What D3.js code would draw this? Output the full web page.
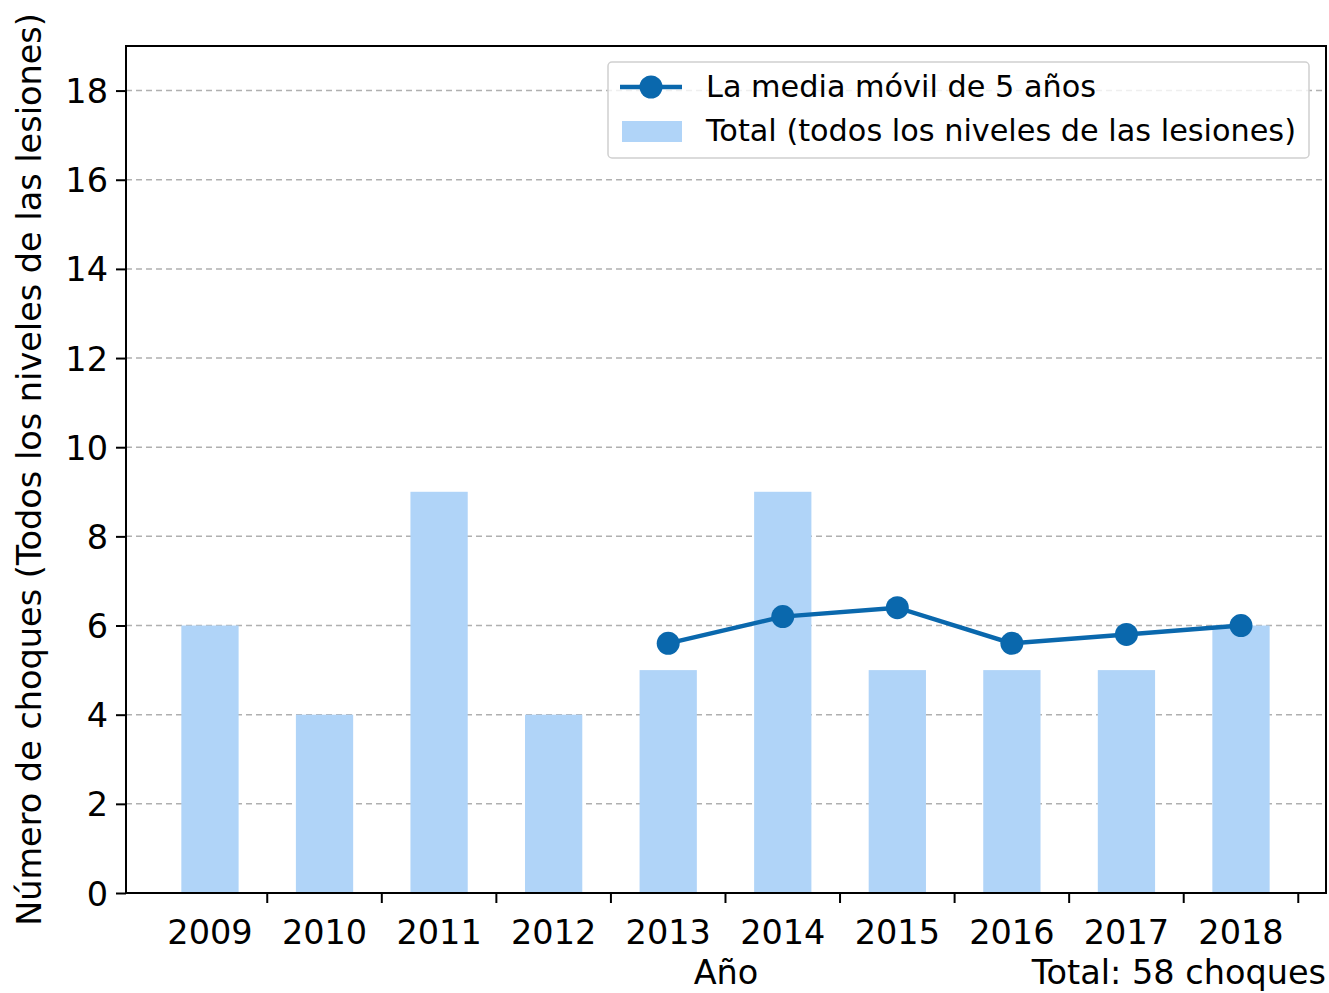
<!DOCTYPE html>
<html><head><meta charset="utf-8">
<script src="https://cdn.jsdelivr.net/npm/d3@7"></script>
<style>body{margin:0;background:#fff;} svg{display:block;font-family:"DejaVu Sans",sans-serif;}</style>
</head><body>
<svg id="c" width="1329" height="993"></svg>
<script>
const years = [2009,2010,2011,2012,2013,2014,2015,2016,2017,2018];
const totals = [6,4,9,4,5,9,5,5,5,6];
const maYears = [2013,2014,2015,2016,2017,2018];
const maValues = [5.6,6.2,6.4,5.6,5.8,6.0];
const yTicks = [0,2,4,6,8,10,12,14,16,18];
const legendLabels = ["La media móvil de 5 años","Total (todos los niveles de las lesiones)"];
const xTitle = "Año";
const yTitle = "Número de choques (Todos los niveles de las lesiones)";
const totalNote = "Total: 58 choques";

const L=126,R=1326,T=46,B=893;
const svg=d3.select("#c");
const x=d3.scaleLinear().domain([2009-0.733,2018+0.742]).range([L,R]);
const y=d3.scaleLinear().domain([0,19]).range([B,T]);
const step=x(2010)-x(2009);
const barColor="#b0d4f8", lineColor="#0a68ad";

// grid
svg.append("g").selectAll("line").data(yTicks.filter(d=>d>0)).join("line")
 .attr("x1",L).attr("x2",R).attr("y1",d=>y(d)).attr("y2",d=>y(d))
 .attr("stroke","#b0b0b0").attr("stroke-width",1.5).attr("stroke-dasharray","6,4");

// bars
svg.append("g").selectAll("rect").data(years.map((d,i)=>({yr:d,v:totals[i]}))).join("rect")
 .attr("x",d=>x(d.yr)-step*0.25).attr("width",step*0.5)
 .attr("y",d=>y(d.v)).attr("height",d=>y(0)-y(d.v)).attr("fill",barColor);

// line
const pts=maYears.map((d,i)=>[d,maValues[i]]);
svg.append("path").datum(pts).attr("fill","none").attr("stroke",lineColor).attr("stroke-width",4.5)
 .attr("d",d3.line().x(d=>x(d[0])).y(d=>y(d[1])));
svg.append("g").selectAll("circle").data(pts).join("circle")
 .attr("cx",d=>x(d[0])).attr("cy",d=>y(d[1])).attr("r",11.5).attr("fill",lineColor);

// frame
svg.append("rect").attr("x",L).attr("y",T).attr("width",R-L).attr("height",B-T)
 .attr("fill","none").attr("stroke","#000").attr("stroke-width",2);

// y axis
const ya=svg.append("g").attr("transform",`translate(${L},0)`)
 .call(d3.axisLeft(y).tickValues(yTicks).tickSize(10).tickPadding(8).tickFormat(d3.format("d")));
ya.select(".domain").remove();
ya.selectAll("line").attr("stroke","#000").attr("stroke-width",2);
ya.selectAll("text").attr("font-size",33.5).attr("font-family","DejaVu Sans").attr("fill","#000").attr("dy","0.36em");

// x axis: ticks between bars, labels at bar centers
const xa=svg.append("g").attr("transform",`translate(0,${B})`);
xa.selectAll("line").data(years).join("line")
 .attr("x1",d=>x(d+0.5)).attr("x2",d=>x(d+0.5)).attr("y1",0).attr("y2",10)
 .attr("stroke","#000").attr("stroke-width",2);
xa.selectAll("text").data(years).join("text")
 .attr("x",d=>x(d)).attr("y",51).attr("text-anchor","middle")
 .attr("font-size",33.5).attr("fill","#000").text(d=>d);

svg.append("text").attr("x",(L+R)/2).attr("y",984).attr("text-anchor","middle")
 .attr("font-size",33.5).text(xTitle);
svg.append("text").attr("x",R).attr("y",984).attr("text-anchor","end")
 .attr("font-size",33.5).text(totalNote);
svg.append("text").attr("transform",`translate(41,${(T+B)/2}) rotate(-90)`).attr("text-anchor","middle")
 .attr("font-size",33.5).text(yTitle);

// legend
const lg=svg.append("g");
lg.append("rect").attr("x",608).attr("y",62).attr("width",701).attr("height",96).attr("rx",4)
 .attr("fill","#fff").attr("fill-opacity",0.8).attr("stroke","#d0d0d0").attr("stroke-width",1.5);
lg.append("line").attr("x1",620).attr("x2",682).attr("y1",87).attr("y2",87).attr("stroke",lineColor).attr("stroke-width",4.5);
lg.append("circle").attr("cx",651).attr("cy",87).attr("r",11.5).attr("fill",lineColor);
lg.append("rect").attr("x",622).attr("y",121).attr("width",60).attr("height",21).attr("fill",barColor);
lg.selectAll("text.l").data(legendLabels).join("text").attr("class","l")
 .attr("x",706).attr("y",(d,i)=>97+i*44).attr("font-size",30.3).text(d=>d);
</script>
</body></html>
